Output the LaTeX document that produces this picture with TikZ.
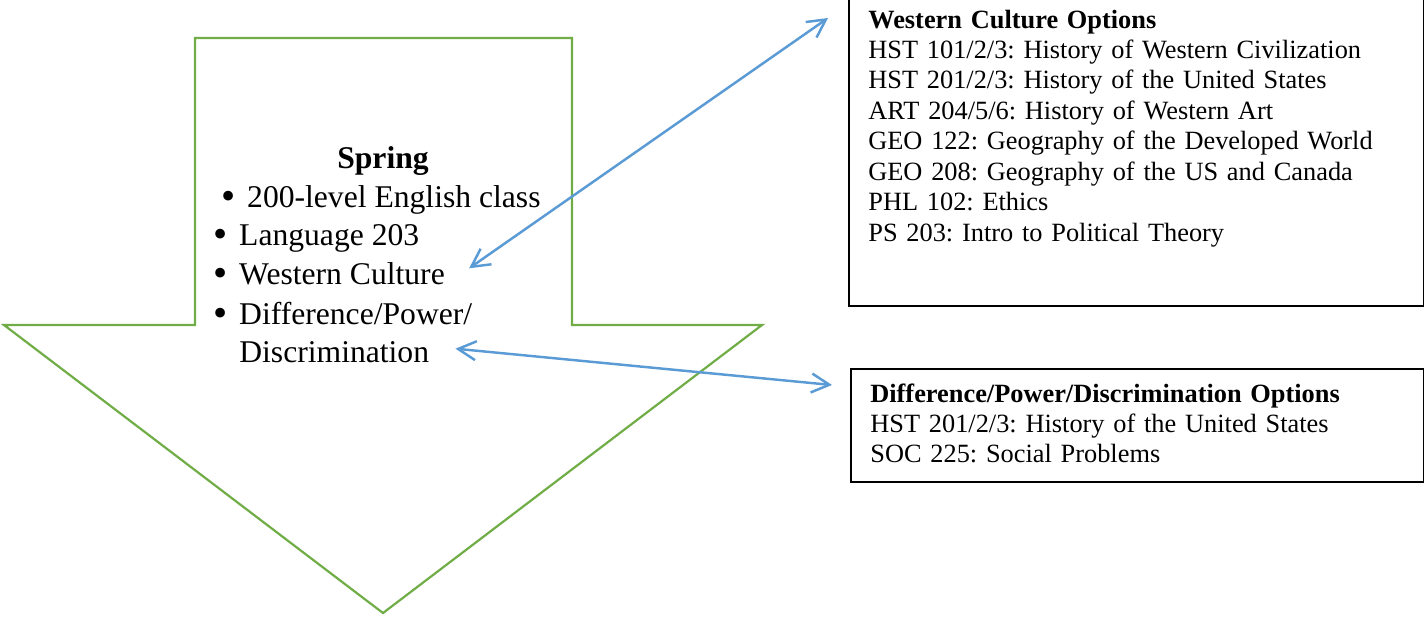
\documentclass[tikz,border=0pt]{standalone}
\usepackage{fontspec}
\setmainfont{Liberation Serif}
\usepackage{xcolor}
\usetikzlibrary{arrows.meta}
\definecolor{arrowgreen}{HTML}{70AD47}
\definecolor{linkblue}{HTML}{5B9BD5}
\newcommand{\bigbullet}{\makebox[13pt][l]{\hspace{-1.5pt}\raisebox{-0.08em}{\fontsize{23}{18}\selectfont\textbullet}}}
\frenchspacing

\begin{document}
\begin{tikzpicture}[
  x=0.02cm, y=-0.02cm,
  bigarrow/.style={draw=arrowgreen, line width=1.25pt, line join=miter},
  head/.style={anchor=base, inner sep=0pt, font=\fontsize{18}{22}\selectfont\bfseries},
  item/.style={anchor=base west, inner sep=0pt, font=\fontsize{18}{22}\selectfont},
  optbox/.style={draw, line width=0.9pt, anchor=north west, inner sep=0pt},
  opttext/.style={anchor=base west, inner sep=0pt, text width=11cm, align=left, font=\fontsize{15}{17.35}\selectfont},
  link/.style={{Straight Barb[length=3.6mm,width=3.8mm]}-{Straight Barb[length=3.6mm,width=3.8mm]}, draw=linkblue, line width=1.4pt}
]
\useasboundingbox (0,0) rectangle (1425,623);

% block arrow pointing down
\draw[bigarrow] (195,38) -- (572,38) -- (572,325) -- (762,325) -- (383,613) -- (4,325) -- (195,325) -- cycle;

\node[head] (spring) at (383,168) {Spring};
\node[item] (english) at (224,207) {\bigbullet 200-level English class};
\node[item] (lang) at (216,245) {\bigbullet Language 203};
\node[item] (wcitem) at (216,284) {\bigbullet Western Culture};
\node[item] (dpitem) at (216,324) {\bigbullet Difference/Power/};
\node[item] (dpitem2) at (239,362) {Discrimination};

\node[optbox, minimum width=11.5cm, minimum height=6.34cm] (wcbox) at (848,-12) {};
\node[opttext] (wclist) at (868,28) {\textbf{Western Culture Options}\\
HST 101/2/3: History of Western Civilization\\
HST 201/2/3: History of the United States\\
ART 204/5/6: History of Western Art\\
GEO 122: Geography of the Developed World\\
GEO 208: Geography of the US and Canada\\
PHL 102: Ethics\\
PS 203: Intro to Political Theory};

\node[optbox, minimum width=11.46cm, minimum height=2.26cm] (dpbox) at (850,368) {};
\node[opttext] (dplist) at (870,402) {\textbf{Difference/Power/Discrimination Options}\\
HST 201/2/3: History of the United States\\
SOC 225: Social Problems};

\draw[link] ([shift={(24,-6)}]wcitem.east) -- ([shift={(-20,30)}]wcbox.north west);
\draw[link] ([shift={(26,-3)}]dpitem2.east) -- ([shift={(-18,17)}]dpbox.north west);
\end{tikzpicture}
\end{document}
